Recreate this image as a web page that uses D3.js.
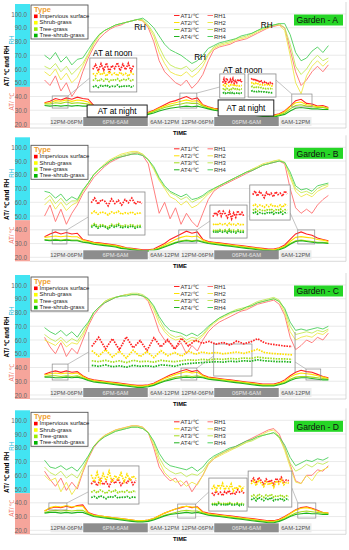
<!DOCTYPE html>
<html>
<head>
<meta charset="utf-8">
<script src="https://cdn.jsdelivr.net/npm/d3@7"></script>
<style>
  body { margin: 0; background: #fff; }
  svg { font-family: "Liberation Sans", Arial, sans-serif; }
</style>
</head>
<body>
<div id="chart"></div>
<script>

// --------------- Data --------------- //

// hours from 12PM of day 1 (starts one hour earlier, ends three hours later)
const hours = [-1,0,1,2,3,4,5,6,7,8,9,10,11,12,13,14,15,16,17,18,19,20,21,22,23,24,25,26,27,28,29,30,31,32,33,34,35,36,37,38,39,40,41,42,43,44,45,46,47,48,49,50,51];

const yTicks = [20, 30, 40, 50, 60, 70, 80, 90, 100];
const typeNames = ["Impervious surface", "Shrub-grass", "Tree-grass", "Tree-shrub-grass"];
const atNames = ["AT1/℃", "AT2/℃", "AT3/℃", "AT4/℃"];
const rhNames = ["RH1", "RH2", "RH3", "RH4"];
const segLabels = ["12PM-06PM", "6PM-6AM", "6AM-12PM", "12PM-06PM", "06PM-6AM", "6AM-12PM"];
const segStart = [0, 6, 18, 24, 30, 42];
const segEnd = [6, 18, 24, 30, 42, 48];
const segNight = [false, true, false, false, true, false];

// Garden A
const rhA1 = [52,48,55,44,50,40,46, 58,68,76,82,86,89,91,92,94,95,96,95, 90,80,66,58,54,50,48,52,46,50,56,66, 74,76,77,78,80,81,82,84,86,88,90,91, 92,90,74,58,48,52,58,62,58,63];
const rhA2 = [58,55,60,52,57,50,54, 62,70,78,84,88,90,92,93,94,95,96,95, 91,84,72,64,58,56,55,58,54,57,62,70, 75,77,78,79,81,82,83,85,87,89,90,92, 92,88,70,50,42,55,62,66,62,66];
const rhA3 = [62,60,64,58,62,56,60, 64,71,79,85,88,90,92,93,94,95,96,96, 92,86,76,68,63,61,60,62,58,61,65,71, 76,78,79,80,82,83,84,86,88,89,91,92, 93,90,78,62,56,60,66,70,66,68];
const rhA4 = [70,67,72,65,69,63,67, 68,74,80,85,88,90,92,93,94,95,96,97, 94,90,84,78,74,72,70,67,64,66,70,75, 77,79,80,81,82,84,85,86,88,90,91,92, 93,93,85,72,66,68,73,76,72,77];
const atA1 = [35.5,36.5,38.5,37.5,39,38,39.5, 38.5,38,33.5,32.5,31.5,31,30.5,30,29.5,29,28.5,28, 28.5,30,32,34,36,37,38.5,40,38,39,34,32.5, 31.5,31,30.5,30,29.5,29,28.5,28,27.5,27,27,26.5, 27.5,29.5,33,37,38,35,34.5,33,33.5,32];
const atA2 = [35,35.5,37,36.5,37.5,36.5,37.5, 37,36,33,32,31,30.5,30,29.5,29,28.5,28,27.5, 28,29.5,31.5,33,34.5,35.5,36.5,37.5,36.5,37,33.5,32, 31,30.5,30,29.5,29,28.5,28,27.5,27,26.5,26.5,26, 27,29,32.5,35.5,36,34,33.5,32.5,32.5,31.5];
const atA3 = [34.5,34.5,35.5,35,36,35,35.5, 35,34.5,32.5,31.5,30.5,30,29.5,29,28.5,28,27.5,27, 27.5,29,30.5,32,33,34,34.5,35.5,35,35,33,31.5, 30.5,30,29.5,29,28.5,28,27.5,27,26.5,26,26,25.5, 26.5,28,31,33.5,34,33,32.5,32,32,31];
const atA4 = [33.5,33,33.5,33,33.5,33,33.5, 33,33,32,31,30,29.5,29,28.5,28,27.5,27,26.5, 27,28,29.5,30.5,31.5,32,32.5,33,32.5,33,32,31, 30,29.5,29,28.5,28,27.5,27,26.5,26,25.5,25.5,25, 26,27,29.5,31.5,32,31.5,31,31,30.5,30.5];

// Garden B
const rhB1 = [50,58,46,55,44,52,58, 66,72,78,82,86,89,91,93,94,95,96,94, 88,70,52,60,48,56,44,52,46,42,52,62, 68,71,73,75,77,79,81,83,85,87,88,89, 90,88,70,56,52,55,52,58,62,65];
const rhB2 = [58,62,55,60,54,58,60, 68,74,80,84,88,91,93,95,96,97,97,95, 91,84,76,70,64,62,58,61,56,58,62,66, 69,72,74,76,78,80,82,84,86,88,89,90, 91,89,78,68,64,66,64,68,70,72];
const rhB3 = [62,65,59,63,58,61,61, 68,74,80,84,87,90,92,94,95,96,96,95, 91,85,77,71,67,65,62,64,60,62,64,67, 70,72,74,76,78,80,82,84,85,87,88,90, 90,89,80,70,67,68,66,70,72,73];
const rhB4 = [68,67,63,66,61,64,62, 69,74,80,84,87,90,92,93,94,95,95,94, 91,86,78,72,68,66,64,66,62,63,65,68, 70,72,74,76,78,80,82,83,85,87,88,89, 90,89,82,72,69,70,68,72,73,74];
const atB1 = [35,37,38.5,37,38,37,37.5, 33,32,31,30.5,30,29.5,29,28,27,26.5,26,25.5, 25.5,26,28,30,33,35,37,39,37.5,38.5,33,31.5, 31,30.5,30,29.5,29,28.5,28,27.5,27,26.5,26,26, 27,29,33,37,38.5,37,36,34,33,32];
const atB2 = [34.5,35,35.5,35,35.5,35,35, 32.5,31.5,30.5,30,29.5,29,28.5,27.5,26.5,26,25.5,25, 25,25.5,27,29,31,33,34.5,35.5,35,35.5,32.5,31, 30.5,30,29.5,29,28.5,28,27.5,27,26.5,26,25.5,25.5, 26.5,28,31.5,34.5,35,34.5,34,33,32.5,31.5];
const atB3 = [33,32.5,33,32.5,33,32.5,32.5, 31.5,31,30,29.5,29,28.5,28,27,26.5,26,25.5,25, 25,25.5,26.5,28,29.5,31,32,32.5,32,32.5,31.5,30.5, 30,29.5,29,28.5,28,27.5,27,26.5,26,25.5,25.5,25, 26,27.5,30,32,32.5,32,31.5,31,31,30.5];
const atB4 = [32.5,32,32.5,32,32.5,32,32, 31,30.5,29.5,29,28.5,28,27.5,26.5,26,25.5,25,24.5, 24.5,25,26,27.5,29,30.5,31.5,32,31.5,32,31,30, 29.5,29,28.5,28,27.5,27,26.5,26,25.5,25,25,24.5, 25.5,27,29.5,31.5,32,31.5,31,30.5,30.5,30];

// Garden C
const rhC1 = [62,55,50,58,48,54,50, 60,70,78,83,87,89,91,92,93,93,93,92, 88,78,66,60,58,54,58,50,56,52,60,66, 70,73,75,77,79,81,82,84,86,87,88,89, 86,78,62,53,56,60,58,62,60,65];
const rhC2 = [60,58,56,60,55,58,57, 63,72,80,84,88,90,91,92,93,93,93,92, 89,82,72,66,62,60,61,58,60,59,63,68, 72,75,77,79,81,82,83,85,87,88,89,90, 88,80,66,60,62,63,62,65,64,67];
const rhC3 = [64,61,59,62,58,61,59, 65,72,80,84,88,90,91,92,93,94,94,93, 90,84,75,68,64,62,63,60,62,61,64,69, 73,76,78,80,82,83,84,86,88,89,90,91, 89,82,70,64,65,66,65,67,66,68];
const rhC4 = [69,66,64,67,63,66,62, 68,73,80,84,87,89,91,92,92,93,93,92, 90,85,77,71,67,66,65,63,65,63,66,70, 73,76,78,80,81,82,84,85,87,88,89,90, 88,83,73,67,68,67,68,69,68,70];
const atC1 = [35,36.5,37.5,36.5,37.5,36.5,37, 34,32,31,30.5,30,29.5,29,28.5,28,27.5,27,27, 27.5,28.5,30.5,32.5,34.5,36,37.5,38.5,37,38,34.5,33, 32.5,32,31.5,31,30.5,30,29.5,29,28.5,28,28,28, 29,31,34,36.5,38,37,36.5,35,33.5,32.5];
const atC2 = [34.5,35.5,36,35.5,36,35.5,36, 33.5,31.5,30.5,30,29.5,29,28.5,28,27.5,27,26.5,26.5, 27,28,30,32,33.5,35,36,37,36,36.5,34,32.5, 32,31.5,31,30.5,30,29.5,29,28.5,28,27.5,27.5,27.5, 28.5,30,33,35,36,35.5,35,34,33,32];
const atC3 = [33.5,34,34,33.5,34,33.5,34, 32.5,31,30,29.5,29,28.5,28,27.5,27,26.5,26,26, 26.5,27.5,29,30.5,32,33,33.5,34,33.5,34,33,32, 31.5,31,30.5,30,29.5,29,28.5,28,27.5,27,27,27, 28,29,31.5,33,33.5,33.5,33,32.5,32,31.5];
const atC4 = [33,33,32.5,32.5,33,32.5,33, 32,30.5,29.5,29,28.5,28,27.5,27,26.5,26,25.5,25.5, 26,27,28.5,30,31,32,32.5,33,32.5,33,32.5,31.5, 31,30.5,30,29.5,29,28.5,28,27.5,27,26.5,26.5,26.5, 27.5,28.5,30.5,32,32.5,32.5,32,31.5,31,31];

// Garden D
const rhD1 = [63,57,52,58,49,55,50, 62,72,80,85,89,91,93,94,95,96,96,95, 91,80,66,60,56,58,52,56,48,54,60,68, 72,75,77,79,81,83,85,87,89,91,93,94, 90,80,68,56,54,60,60,64,63,67];
const rhD2 = [60,56,58,48,55,46,52, 63,73,81,86,89,91,93,94,95,96,96,95, 91,82,70,62,58,55,56,52,55,53,60,68, 72,74,76,78,80,82,84,86,88,90,92,93, 88,78,66,55,54,60,56,62,64,66];
const rhD3 = [66,62,60,63,58,61,58, 65,73,81,85,88,90,92,93,94,95,95,94, 91,84,73,66,63,61,62,59,61,60,63,69, 73,75,77,79,80,82,84,85,87,89,90,91, 87,80,69,63,65,68,66,69,68,70];
const rhD4 = [71,66,65,67,64,66,63, 68,74,81,85,88,90,92,93,94,95,95,94, 91,85,76,70,67,66,65,64,66,63,66,71, 74,76,78,80,81,83,85,86,88,89,90,91, 88,82,73,67,69,71,70,72,71,73];
const atD1 = [34,36,37,36.5,37.5,36.5,38, 38.5,33,31.5,30.5,30,29.5,29,28.5,28,27.5,27,27, 27.5,28.5,30.5,32.5,34,35.5,36.5,37.5,36.5,37,33.5,32.5, 32,31.5,31,30.5,30,29.5,29,28.5,28,27.5,27,27, 28,30,32.5,35,36.5,37,36,34.5,33,32.5];
const atD2 = [34,36.5,37.5,37,38,37,37.5, 37.5,32.5,31,30.5,30,29.5,29,28.5,28,27.5,27,27, 27.5,28.5,30.5,32.5,34,35.5,37,37.5,37,36.5,33,32, 31.5,31,30.5,30,29.5,29,28.5,28,27.5,27,26.5,26.5, 27.5,29.5,32,34.5,36,36.5,35.5,34,33,32.5];
const atD3 = [33,34,34.5,34,34.5,34,34.5, 34.5,32,30.5,30,29.5,29,28.5,28,27.5,27,26.5,26.5, 27,28,29.5,31,32,33,34,34.5,34,34,32.5,31.5, 31,30.5,30,29.5,29,28.5,28,27.5,27,26.5,26,26, 27,28.5,30.5,32.5,33.5,34,33.5,33,32.5,32];
const atD4 = [32.5,33,33,32.5,33,32.5,33, 33,31.5,30,29.5,29,28.5,28,27.5,27,26.5,26,26, 26.5,27.5,29,30.5,31.5,32,32.5,33,32.5,33,32,31, 30.5,30,29.5,29,28.5,28,27.5,27,26.5,26,25.5,25.5, 26.5,28,30,31.5,32,32.5,32,32,31.5,31.5];

// zoomed AT readings shown in the insets (AT1..AT4)
const insA1 = [
  [39.2,40.4,38.8,40.6,39.0,40.8,38.6,40.2,39.4,40.9,38.9,40.5,39.1,40.7,38.8,40.3],
  [38.2,37.6,38.6,37.8,38.4,37.5,38.7,37.9,38.3,37.6,38.5,37.8,38.2,37.5,38.4,37.9],
  [36.4,36.9,36.2,36.8,36.3,37.0,36.1,36.7,36.4,36.9,36.2,36.8,36.5,36.9,36.3,36.7],
  [34.8,35.1,34.7,35.2,34.9,35.3,34.8,35.0,34.9,35.3,34.7,35.1,34.9,35.2,34.8,35.1]];
const insA2 = [
  [39.5,40.8,39.2,41.0,40.1,39.4,40.6,39.8,40.9,39.3,40.2,39.6,40.7,39.9,40.4,39.7],
  [38.6,38.9,38.4,39.1,38.7,38.5,38.9,38.6,38.8,38.4,38.9,38.6,38.8,38.5,38.7,38.6],
  [37.4,37.8,37.3,37.7,37.5,37.2,37.7,37.4,37.8,37.3,37.6,37.4,37.7,37.3,37.6,37.5],
  [36.2,36.4,36.1,36.5,36.3,36.0,36.4,36.2,36.5,36.1,36.3,36.2,36.4,36.1,36.3,36.2]];
const insA3 = [
  [40.6,41.0,40.2,40.8,39.9,40.4,39.6,40.1,39.5,39.9,39.3,39.7,39.2,39.6,39.1,39.4],
  [39.4,39.7,39.2,39.5,39.0,39.3,38.9,39.1,38.8,39.0,38.7,38.9,38.6,38.8,38.5,38.7],
  [38.2,38.4,38.0,38.3,37.9,38.1,37.8,38.0,37.7,37.9,37.6,37.8,37.6,37.7,37.5,37.6],
  [36.8,37.0,36.7,36.9,36.6,36.8,36.5,36.7,36.5,36.6,36.4,36.6,36.4,36.5,36.3,36.4]];
const insB1 = [
  [38.6,39.2,38.4,39.0,38.8,38.2,39.1,38.5,38.9,38.3,39.0,38.6,39.2,38.4,38.8,38.5],
  [37.2,37.5,37.1,37.4,37.3,37.0,37.4,37.2,37.5,37.1,37.3,37.2,37.4,37.1,37.3,37.2],
  [35.6,35.9,35.5,35.8,35.6,35.4,35.8,35.6,35.9,35.5,35.7,35.6,35.8,35.5,35.7,35.6],
  [35.4,35.7,35.3,35.6,35.5,35.2,35.6,35.4,35.7,35.3,35.5,35.4,35.6,35.3,35.5,35.4]];
const insB2 = [
  [38.8,39.6,39.1,40.0,38.9,39.8,39.3,38.6,39.7,38.4,39.5,38.7,39.9,39.0,39.6,38.8],
  [37.3,37.5,37.2,37.6,37.4,37.3,37.5,37.2,37.6,37.3,37.4,37.2,37.5,37.3,37.4,37.3],
  [36.2,36.4,36.1,36.5,36.3,36.2,36.4,36.1,36.5,36.2,36.3,36.1,36.4,36.2,36.3,36.2],
  [35.9,36.1,35.8,36.2,36.0,35.9,36.1,35.8,36.2,35.9,36.0,35.8,36.1,35.9,36.0,35.9]];
const insB3 = [
  [39.4,39.9,39.2,39.8,39.5,39.0,39.7,39.3,39.6,39.1,39.8,39.4,39.6,39.2,39.9,39.5],
  [37.9,38.1,37.8,38.0,37.9,37.7,38.0,37.8,38.1,37.8,37.9,37.8,38.0,37.7,38.1,37.9],
  [37.3,37.5,37.2,37.4,37.3,37.2,37.4,37.3,37.5,37.2,37.4,37.3,37.5,37.2,37.4,37.3],
  [36.9,37.1,36.8,37.0,36.9,36.8,37.0,36.9,37.1,36.8,37.0,36.9,37.1,36.8,37.0,36.9]];
const insC1 = [
  [39.5,41.5,39.0,41.2,38.8,41.6,39.2,40.8,38.6,41.4,39.4,41.0,38.9,41.3,39.6,40.9,40.2,40.6,40.0,40.4,39.8,40.7,40.1,40.5,41.2,40.3,40.0,39.8,39.6,39.5],
  [38.6,37.4,38.8,37.2,38.5,37.0,38.7,37.3,38.4,37.1,38.6,37.5,38.2,37.4,38.5,37.8,38.3,38.0,38.2,37.9,38.1,38.3,38.0,38.4,38.9,38.2,38.0,37.9,37.8,37.7],
  [36.4,36.2,36.5,36.1,36.4,36.0,36.5,36.2,36.3,36.1,36.5,36.3,36.2,36.4,36.6,36.5,36.7,36.6,36.8,36.7,36.9,36.8,37.0,36.9,37.2,37.0,36.9,36.8,36.8,36.7],
  [35.4,35.2,35.5,35.1,35.3,35.0,35.4,35.2,35.3,35.1,35.5,35.4,35.2,35.6,35.8,35.9,36.0,36.1,36.2,36.1,36.3,36.2,36.4,36.3,36.6,36.4,36.3,36.2,36.2,36.1]];
const insD1 = [
  [38.6,39.2,38.3,39.4,38.5,39.0,38.2,39.3,38.7,39.5,38.4,39.1,38.8,39.6,38.5,39.2],
  [40.2,39.0,40.6,38.8,40.4,39.2,40.8,38.9,40.1,39.4,40.5,39.0,40.3,39.3,40.0,39.5],
  [37.2,37.5,37.1,37.6,37.3,37.0,37.5,37.2,37.6,37.1,37.4,37.2,37.5,37.1,37.4,37.3],
  [36.3,36.5,36.2,36.6,36.4,36.1,36.5,36.3,36.6,36.2,36.4,36.3,36.5,36.2,36.4,36.3]];
const insD2 = [
  [39.0,38.6,39.3,38.8,39.1,38.5,39.2,38.9,39.4,38.7,39.0,38.8,39.5,39.1,39.3,38.9],
  [39.6,40.2,39.4,40.4,39.8,40.6,39.5,40.1,39.7,40.5,39.3,40.0,39.6,40.3,39.5,40.1],
  [37.1,37.3,37.0,37.4,37.2,37.1,37.3,37.0,37.4,37.1,37.2,37.1,37.3,37.0,37.2,37.1],
  [36.9,37.1,36.8,37.2,37.0,36.9,37.1,36.8,37.2,36.9,37.0,36.9,37.1,36.8,37.0,36.9]];
const insD3 = [
  [39.4,39.8,39.2,39.9,39.5,39.1,39.7,39.3,39.6,39.0,39.8,39.4,39.9,39.3,39.6,39.5],
  [39.1,39.5,38.9,39.6,39.2,38.8,39.4,39.0,39.3,38.7,39.5,39.1,39.6,39.0,39.3,39.2],
  [37.6,37.8,37.5,37.9,37.7,37.5,37.8,37.6,37.9,37.5,37.7,37.6,37.8,37.5,37.7,37.6],
  [37.2,37.4,37.1,37.5,37.3,37.1,37.4,37.2,37.5,37.1,37.3,37.2,37.4,37.1,37.3,37.2]];


// --------------- Basic Setup --------------- //

const width = 349,
    height = 550;

const atColors = ["#ff2424", "#ffe000", "#a3dd1c", "#1fb21f"];
const rhColors = ["#ff7070", "#eee84a", "#c4ea5a", "#4ccf5c"];
const typeColors = ["#ff0000", "#ffff00", "#99ee00", "#00b400"];

const svg = d3.select("#chart")
    .append("svg")
    .attr("width", width)
    .attr("height", height);

// shared scales, each panel is drawn in its own translated group
const x = d3.scaleLinear().domain([0, 48]).range([50, 312]);
const y = d3.scaleLinear().domain([20, 100]).range([124, 14]);

const line = d3.line()
    .defined(d => d != null)
    .x((d, i) => x(hours[i]))
    .y(d => y(d));

// zoom rectangles / insets are placed in data units (hour, value)
const panels = [
    { name: "Garden - A", top: 0, legendTop: 5,
      rh: [rhA1, rhA2, rhA3, rhA4], at: [atA1, atA2, atA3, atA4],
      rects: [[0.4, 3.3, 31.6, 40.4], [23.8, 26.9, 31.6, 42.5], [44.3, 48, 32.4, 41.8]],
      insets: [
        { h: [7.3, 15.9], v: [43.3, 68], data: insA1, frame: "box" },
        { h: [31.1, 35.7], v: [38.9, 56.4], data: insA2, frame: "box" },
        { h: [36.3, 41.4], v: [39.6, 56.4], data: insA3, frame: "box" }],
      links: [[3.3, 40.4, 7.3, 53.5], [26.9, 42.5, 31.1, 46.9], [44.3, 41.8, 41.4, 52]],
      nightBoxes: [[6.8, 17.8, 25.1, 33.8], [30.8, 41, 25.8, 37.5]],
      notes: [["AT at noon", 11.5, 71.6], ["AT at noon", 35.3, 59.3],
              ["RH", 16.5, 90.5], ["RH", 27.5, 68.7], ["RH", 39.7, 92]] },
    { name: "Garden - B", top: 133.3, legendTop: 12,
      rh: [rhB1, rhB2, rhB3, rhB4], at: [atB1, atB2, atB3, atB4],
      rects: [[0.4, 3.1, 29.7, 39.9], [23.6, 26.9, 30.4, 39.9], [45.4, 48.5, 29.7, 39.9]],
      insets: [
        { h: [7, 17.4], v: [36.2, 67.5], data: insB1, frame: "box" },
        { h: [29.3, 36.1], v: [34, 58], data: insB2, frame: "box" },
        { h: [36.6, 44], v: [47.1, 72.6], data: insB3, frame: "box" }],
      links: [[3.1, 39.9, 7, 49.3], [26.9, 39.9, 29.3, 46.4], [45.4, 39.9, 44, 52.2]],
      nightBoxes: [], notes: [] },
    { name: "Garden - C", top: 271, legendTop: 6,
      rh: [rhC1, rhC2, rhC3, rhC4], at: [atC1, atC2, atC3, atC4],
      rects: [[0.4, 3.3, 30.9, 42.5], [24, 26.9, 30.9, 39.6], [46.9, 49.6, 30.9, 38.9], [30, 37, 33.8, 57.1]],
      insets: [
        { h: [7.1, 44.9], v: [36.7, 65.8], data: insC1, frame: "sides" }],
      links: [[3.3, 42.5, 7.1, 51.3], [26.9, 39.6, 30, 48.4], [46.9, 38.9, 44.9, 44]],
      nightBoxes: [], notes: [] },
    { name: "Garden - D", top: 406.3, legendTop: 6,
      rh: [rhD1, rhD2, rhD3, rhD4], at: [atD1, atD2, atD3, atD4],
      rects: [[-0.2, 3.1, 34.8, 39.9], [23.4, 26.7, 28.9, 39.1], [45.4, 48.7, 28.9, 39.9]],
      insets: [
        { h: [7, 16.3], v: [39.1, 66.8], data: insD1, frame: "box" },
        { h: [29.1, 36.1], v: [34, 58], data: insD2, frame: "box" },
        { h: [36.3, 44.3], v: [36.9, 63.1], data: insD3, frame: "box" }],
      links: [[3.1, 39.9, 7, 47.9], [26.7, 39.1, 29.1, 47.9], [45.4, 39.9, 44.3, 50.8]],
      nightBoxes: [], notes: [] }
];


// --------------- Build the Charts --------------- //

panels.forEach(p => {
    const g = svg.append("g").attr("transform", `translate(0,${p.top})`);

    // coloured side bands for the two value ranges
    g.append("rect").attr("x", 15).attr("y", 4).attr("width", 15)
        .attr("height", y(47) - 4).attr("fill", "#42e4f2");
    g.append("rect").attr("x", 15).attr("y", y(47)).attr("width", 15)
        .attr("height", 128 - y(47)).attr("fill", "#f6a59b");

    // grid
    g.append("g").selectAll("line")
        .data(yTicks)
        .join("line")
        .attr("x1", 30).attr("x2", 346)
        .attr("y1", d => y(d)).attr("y2", d => y(d))
        .attr("stroke", "#dcdcdc").attr("stroke-width", 0.6);
    g.append("line").attr("x1", 30).attr("x2", 346).attr("y1", 128).attr("y2", 128)
        .attr("stroke", "#cfcfcf").attr("stroke-width", 0.8);
    g.append("line").attr("x1", 346).attr("x2", 346).attr("y1", 2).attr("y2", 128)
        .attr("stroke", "#cfcfcf").attr("stroke-width", 0.8);

    // y axis tick labels
    const yAxis = g.append("g")
        .attr("transform", "translate(28,0)")
        .call(d3.axisLeft(y).tickValues(yTicks).tickFormat(d3.format(".1f")).tickSize(0).tickPadding(1));
    yAxis.select(".domain").remove();
    yAxis.selectAll("text")
        .attr("font-size", 6.3)
        .attr("font-family", "Liberation Sans, Arial, sans-serif")
        .attr("fill", "#6a6a6a");

    // y titles
    g.append("text").attr("transform", "translate(9,66) rotate(-90)")
        .attr("text-anchor", "middle").attr("font-size", 6.3).attr("font-weight", "bold")
        .text("AT/ ℃ and RH");
    g.append("text").attr("transform", "translate(13.5,40) rotate(-90)")
        .attr("text-anchor", "middle").attr("font-size", 6.3).attr("fill", "#22c0dd")
        .text("RH");
    g.append("text").attr("transform", "translate(13.5,102) rotate(-90)")
        .attr("text-anchor", "middle").attr("font-size", 6.3).attr("fill", "#f2786a")
        .text("AT/ ℃");

    // RH lines, then AT lines
    p.rh.forEach((s, k) => {
        g.append("path").datum(s).attr("d", line)
            .attr("fill", "none").attr("stroke", rhColors[k]).attr("stroke-width", 0.9);
    });
    p.at.forEach((s, k) => {
        g.append("path").datum(s).attr("d", line)
            .attr("fill", "none").attr("stroke", atColors[k]).attr("stroke-width", 1.1);
    });

    // time bar
    const seg = g.append("g").selectAll("g")
        .data(segLabels.map((t, i) => ({ t, a: segStart[i], b: segEnd[i], night: segNight[i] })))
        .join("g");
    seg.append("rect")
        .attr("x", d => x(d.a) + 0.5).attr("y", 117)
        .attr("width", d => x(d.b) - x(d.a) - 1).attr("height", 9)
        .attr("fill", d => d.night ? "#8d8d8d" : "#ececec");
    seg.append("text")
        .attr("x", d => (x(d.a) + x(d.b)) / 2).attr("y", 123.6)
        .attr("text-anchor", "middle").attr("font-size", 5.8)
        .attr("fill", d => d.night ? "#e6e6e6" : "#555")
        .text(d => d.t);

    g.append("text").attr("x", 180).attr("y", 135)
        .attr("text-anchor", "middle").attr("font-size", 5.8).attr("font-weight", "bold")
        .text("TIME");

    // small zoom rectangles and their connector lines
    p.rects.forEach(r => {
        g.append("rect")
            .attr("x", x(r[0])).attr("y", y(r[3]))
            .attr("width", x(r[1]) - x(r[0])).attr("height", y(r[2]) - y(r[3]))
            .attr("fill", "none").attr("stroke", "#8a8a8a").attr("stroke-width", 0.7);
    });
    p.links.forEach(l => {
        g.append("line")
            .attr("x1", x(l[0])).attr("y1", y(l[1]))
            .attr("x2", x(l[2])).attr("y2", y(l[3]))
            .attr("stroke", "#9a9a9a").attr("stroke-width", 0.6);
    });

    // insets with the zoomed AT readings
    p.insets.forEach(ins => {
        const x0 = x(ins.h[0]), x1 = x(ins.h[1]), y0 = y(ins.v[1]), y1 = y(ins.v[0]);
        if (ins.frame === "box") {
            g.append("rect").attr("x", x0).attr("y", y0)
                .attr("width", x1 - x0).attr("height", y1 - y0)
                .attr("fill", "#fff").attr("stroke", "#8a8a8a").attr("stroke-width", 0.8);
        } else {
            [x0, x1].forEach(xx => g.append("line")
                .attr("x1", xx).attr("x2", xx).attr("y1", y0).attr("y2", y1)
                .attr("stroke", "#8a8a8a").attr("stroke-width", 0.8));
        }
        const n = ins.data[0].length;
        const all = ins.data.flat();
        const ix = d3.scaleLinear().domain([0, n - 1]).range([x0 + 3, x1 - 3]);
        const iy = d3.scaleLinear()
            .domain([d3.min(all) - 0.4, d3.max(all) + 0.4])
            .range([y1 - 3, y0 + 3]);
        ins.data.forEach((s, k) => {
            g.append("path").datum(s)
                .attr("d", d3.line().x((d, i) => ix(i)).y(d => iy(d)))
                .attr("fill", "none").attr("stroke", atColors[k])
                .attr("stroke-width", 1.7).attr("stroke-dasharray", "1.6,1.1");
        });
    });

    // "AT at night" boxes and labels (Garden A)
    p.nightBoxes.forEach(b => {
        const bx = x(b[0]), by = y(b[3]);
        g.append("rect").attr("x", bx).attr("y", by)
            .attr("width", x(b[1]) - bx).attr("height", y(b[2]) - by)
            .attr("fill", "#fff").attr("stroke", "#222").attr("stroke-width", 1);
        g.append("text").attr("x", (bx + x(b[1])) / 2).attr("y", (by + y(b[2])) / 2 + 3)
            .attr("text-anchor", "middle").attr("font-size", 8.2)
            .text("AT at night");
    });
    p.notes.forEach(n => {
        g.append("text").attr("x", x(n[1])).attr("y", y(n[2]) + 3)
            .attr("text-anchor", "middle").attr("font-size", 8.2)
            .text(n[0]);
    });

    // Type legend
    const lg = g.append("g").attr("transform", `translate(31,${p.legendTop})`);
    lg.append("rect").attr("width", 57).attr("height", 34)
        .attr("fill", "#fff").attr("stroke", "#555").attr("stroke-width", 0.9);
    lg.append("text").attr("x", 3).attr("y", 7).attr("font-size", 7.5)
        .attr("font-weight", "bold").attr("fill", "#f0a030").text("Type");
    typeNames.forEach((t, i) => {
        lg.append("rect").attr("x", 3).attr("y", 9.5 + i * 6.4)
            .attr("width", 3.6).attr("height", 3.6).attr("fill", typeColors[i]);
        lg.append("text").attr("x", 8.5).attr("y", 13 + i * 6.4)
            .attr("font-size", 5.9).attr("fill", "#222").text(t);
    });

    // AT / RH legend
    atNames.forEach((t, i) => {
        const ly = 15.5 + i * 7;
        g.append("line").attr("x1", 174).attr("x2", 179.5).attr("y1", ly).attr("y2", ly)
            .attr("stroke", atColors[i]).attr("stroke-width", 1);
        g.append("text").attr("x", 180.5).attr("y", ly + 2).attr("font-size", 5.9)
            .attr("fill", "#333").text(t);
        g.append("line").attr("x1", 207.5).attr("x2", 213).attr("y1", ly).attr("y2", ly)
            .attr("stroke", rhColors[i]).attr("stroke-width", 1);
        g.append("text").attr("x", 214).attr("y", ly + 2).attr("font-size", 5.9)
            .attr("fill", "#333").text(rhNames[i]);
    });

    // garden label
    g.append("rect").attr("x", 294).attr("y", 14.5).attr("width", 49).attr("height", 11)
        .attr("fill", "#26d626");
    g.append("text").attr("x", 296.5).attr("y", 23.3).attr("font-size", 8.6)
        .attr("fill", "#111").text(p.name);
});
</script>
</body>
</html>
